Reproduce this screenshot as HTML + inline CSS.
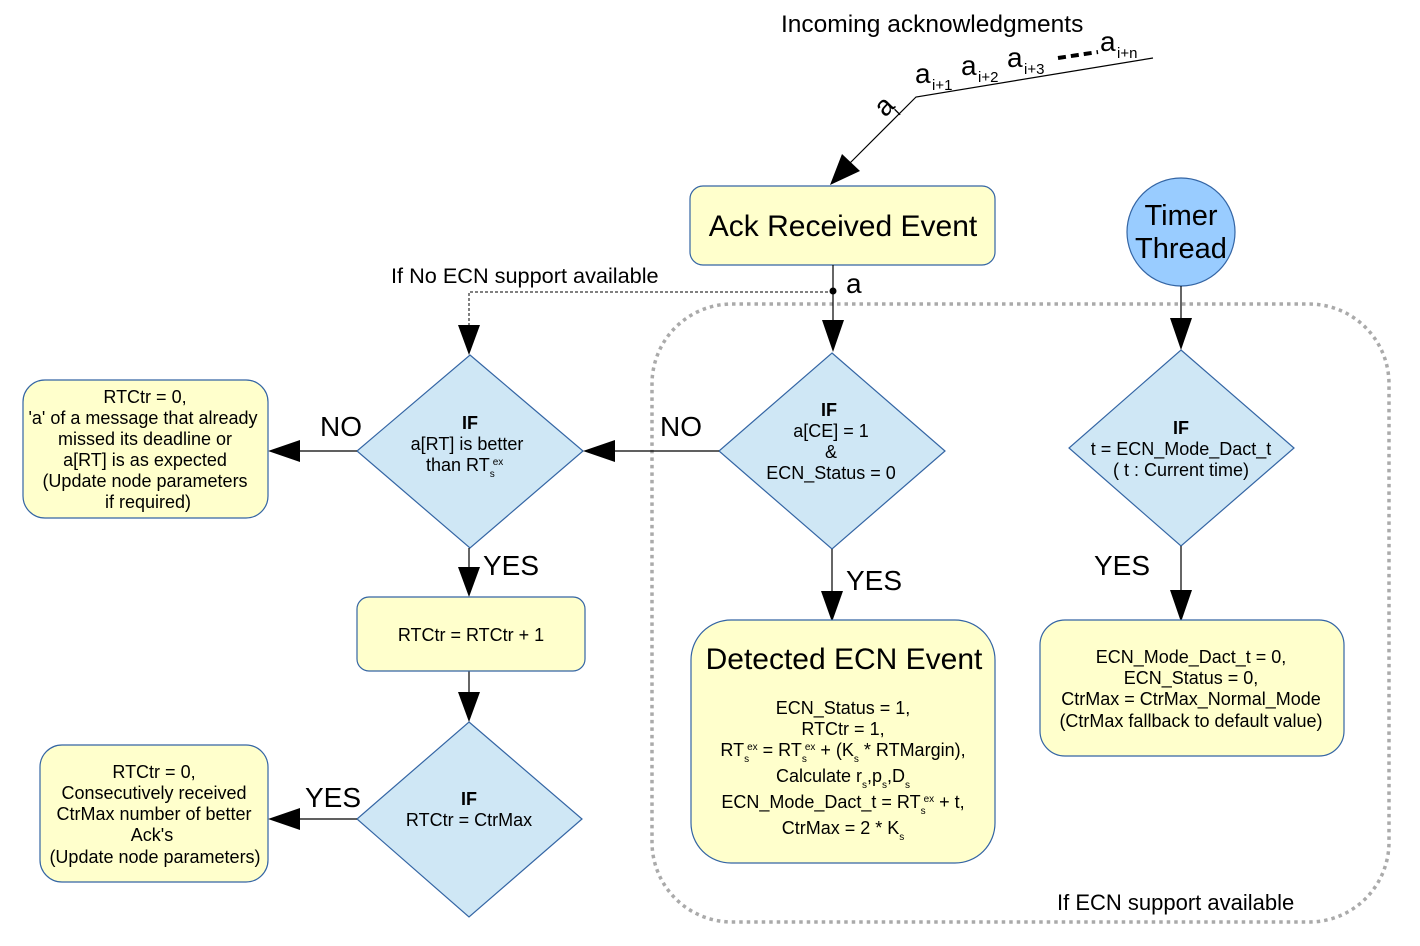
<!DOCTYPE html>
<html><head><meta charset="utf-8"><style>
html,body{margin:0;padding:0;background:#fff}
svg{display:block}
text{font-family:"Liberation Sans",sans-serif;fill:#000}
.y{fill:#ffffcc;stroke:#3465a4;stroke-width:1.2}
.d{fill:#cfe7f5;stroke:#3465a4;stroke-width:1.2}
.l{stroke:#000;stroke-width:1.2;fill:none}
.s{font-size:18px}
.b{font-size:30px}
.sub{font-size:10px}
</style></head><body>
<svg width="1420" height="946" viewBox="0 0 1420 946" xmlns="http://www.w3.org/2000/svg">
<rect x="652" y="304" width="737" height="618" rx="80" ry="80" fill="none" stroke="#aaa" stroke-width="3.5" stroke-dasharray="3.5,4"/>
<text x="1057" y="910" style="font-size:22px">If  ECN support available</text>

<text x="781" y="32" style="font-size:24.5px">Incoming acknowledgments</text>
<polyline class="l" points="1153,58 916,97 850,163"/>
<polygon points="830,185 842,154 860,171"/>
<text x="915" y="83" style="font-size:28px">a</text><text x="932" y="90" style="font-size:15px">i+1</text>
<text x="961" y="75" style="font-size:28px">a</text><text x="978" y="82" style="font-size:15px">i+2</text>
<text x="1007" y="67" style="font-size:28px">a</text><text x="1024" y="74" style="font-size:15px">i+3</text>
<line x1="1058" y1="58" x2="1098" y2="52" stroke="#000" stroke-width="4" stroke-dasharray="8,5"/>
<text x="1100" y="51" style="font-size:28px">a</text><text x="1117" y="58" style="font-size:15px">i+n</text>
<text x="0" y="0" style="font-size:28px" transform="translate(885,118) rotate(-45)">a</text>
<text x="0" y="0" style="font-size:15px" transform="translate(899,116) rotate(-45)">i</text>

<rect x="690" y="186" width="305" height="79" rx="13" class="y"/>
<text x="843" y="236" class="b" text-anchor="middle">Ack Received Event</text>

<circle cx="1181" cy="232" r="54" fill="#99ccff" stroke="#3465a4" stroke-width="1.2"/>
<text x="1181" y="225" style="font-size:29px" text-anchor="middle">Timer</text>
<text x="1181" y="258" style="font-size:29px" text-anchor="middle">Thread</text>

<line class="l" x1="833" y1="265" x2="833" y2="322"/>
<polygon points="833,352 822,320 844,320"/>
<circle cx="833" cy="291" r="3.5"/>
<text x="846" y="293" style="font-size:28px">a</text>
<polyline points="833,292 469,292 469,326" fill="none" stroke="#000" stroke-width="1" stroke-dasharray="3,2"/>
<polygon points="469,355 458,325 480,325"/>
<text x="391" y="283" style="font-size:21.7px">If No ECN support available</text>

<polygon class="d" points="470,355 583,451 470,548 357,451"/>
<text x="470" y="429" class="s" text-anchor="middle" font-weight="bold">IF</text>
<text x="467" y="450" class="s" text-anchor="middle">a[RT] is better</text>
<text x="426" y="471" class="s">than RT<tspan class="sub" dy="6">s</tspan><tspan class="sub" dx="-2" dy="-12">ex</tspan></text>

<polygon class="d" points="832,353 945,451 832,549 719,451"/>
<text x="829" y="416" class="s" text-anchor="middle" font-weight="bold">IF</text>
<text x="831" y="437" class="s" text-anchor="middle">a[CE] = 1</text>
<text x="831" y="458" class="s" text-anchor="middle">&amp;</text>
<text x="831" y="479" class="s" text-anchor="middle">ECN_Status = 0</text>

<polygon class="d" points="1181,350 1294,448 1181,546 1069,448"/>
<text x="1181" y="434" class="s" text-anchor="middle" font-weight="bold">IF</text>
<text x="1181" y="455" class="s" text-anchor="middle">t = ECN_Mode_Dact_t</text>
<text x="1181" y="476" class="s" text-anchor="middle">( t : Current time)</text>

<polygon class="d" points="469,722 582,819 469,917 357,819"/>
<text x="469" y="805" class="s" text-anchor="middle" font-weight="bold">IF</text>
<text x="469" y="826" class="s" text-anchor="middle">RTCtr = CtrMax</text>

<line class="l" x1="719" y1="451" x2="613" y2="451"/>
<polygon points="583,451 615,440 615,462"/>
<text x="660" y="436" style="font-size:28px">NO</text>
<line class="l" x1="357" y1="451" x2="298" y2="451"/>
<polygon points="268,451 300,440 300,462"/>
<text x="320" y="436" style="font-size:28px">NO</text>
<line class="l" x1="469" y1="548" x2="469" y2="570"/>
<polygon points="469,597 458,567 480,567"/>
<text x="483" y="575" style="font-size:28px">YES</text>
<line class="l" x1="469" y1="671" x2="469" y2="694"/>
<polygon points="469,722 458,692 480,692"/>
<line class="l" x1="357" y1="819" x2="298" y2="819"/>
<polygon points="268,819 300,808 300,830"/>
<text x="305" y="807" style="font-size:28px">YES</text>
<line class="l" x1="832" y1="549" x2="832" y2="592"/>
<polygon points="832,622 821,591 843,591"/>
<text x="846" y="590" style="font-size:28px">YES</text>
<line class="l" x1="1181" y1="286" x2="1181" y2="320"/>
<polygon points="1181,350 1170,318 1192,318"/>
<line class="l" x1="1181" y1="546" x2="1181" y2="592"/>
<polygon points="1181,622 1170,590 1192,590"/>
<text x="1094" y="575" style="font-size:28px">YES</text>

<rect x="23" y="380" width="245" height="138" rx="22" class="y"/>
<g class="s" text-anchor="middle">
<text x="145" y="403">RTCtr = 0,</text>
<text x="143" y="424">'a' of a message that already</text>
<text x="145" y="445">missed its deadline or</text>
<text x="145" y="466">a[RT] is as expected</text>
<text x="145" y="487">(Update node parameters</text>
<text x="148" y="508">if required)</text>
</g>

<rect x="357" y="597" width="228" height="74" rx="12" class="y"/>
<text x="471" y="641" class="s" text-anchor="middle">RTCtr = RTCtr + 1</text>

<rect x="40" y="745" width="228" height="137" rx="22" class="y"/>
<g class="s" text-anchor="middle">
<text x="154" y="778">RTCtr = 0,</text>
<text x="154" y="799">Consecutively received</text>
<text x="154" y="820">CtrMax number of better</text>
<text x="152" y="841">Ack's</text>
<text x="155" y="863">(Update node parameters)</text>
</g>

<rect x="691" y="620" width="304" height="243" rx="40" class="y"/>
<text x="844" y="669" class="b" text-anchor="middle">Detected ECN Event</text>
<g class="s" text-anchor="middle">
<text x="843" y="714">ECN_Status = 1,</text>
<text x="843" y="735">RTCtr = 1,</text>
<text x="843" y="756">RT<tspan class="sub" dy="6">s</tspan><tspan class="sub" dx="-2" dy="-12">ex</tspan><tspan dy="6"> = RT</tspan><tspan class="sub" dy="6">s</tspan><tspan class="sub" dx="-2" dy="-12">ex</tspan><tspan dy="6"> + (K</tspan><tspan class="sub" dy="6">s</tspan><tspan dy="-6"> * RTMargin),</tspan></text>
<text x="843" y="782">Calculate r<tspan class="sub" dy="6">s</tspan><tspan dy="-6">,p</tspan><tspan class="sub" dy="6">s</tspan><tspan dy="-6">,D</tspan><tspan class="sub" dy="6">s</tspan></text>
<text x="843" y="808">ECN_Mode_Dact_t = RT<tspan class="sub" dy="6">s</tspan><tspan class="sub" dx="-2" dy="-12">ex</tspan><tspan dy="6"> + t,</tspan></text>
<text x="843" y="834">CtrMax = 2 * K<tspan class="sub" dy="6">s</tspan></text>
</g>

<rect x="1040" y="620" width="304" height="136" rx="25" class="y"/>
<g class="s" text-anchor="middle">
<text x="1191" y="663">ECN_Mode_Dact_t = 0,</text>
<text x="1191" y="684">ECN_Status = 0,</text>
<text x="1191" y="705">CtrMax = CtrMax_Normal_Mode</text>
<text x="1191" y="727">(CtrMax fallback to default value)</text>
</g>
</svg>
</body></html>
